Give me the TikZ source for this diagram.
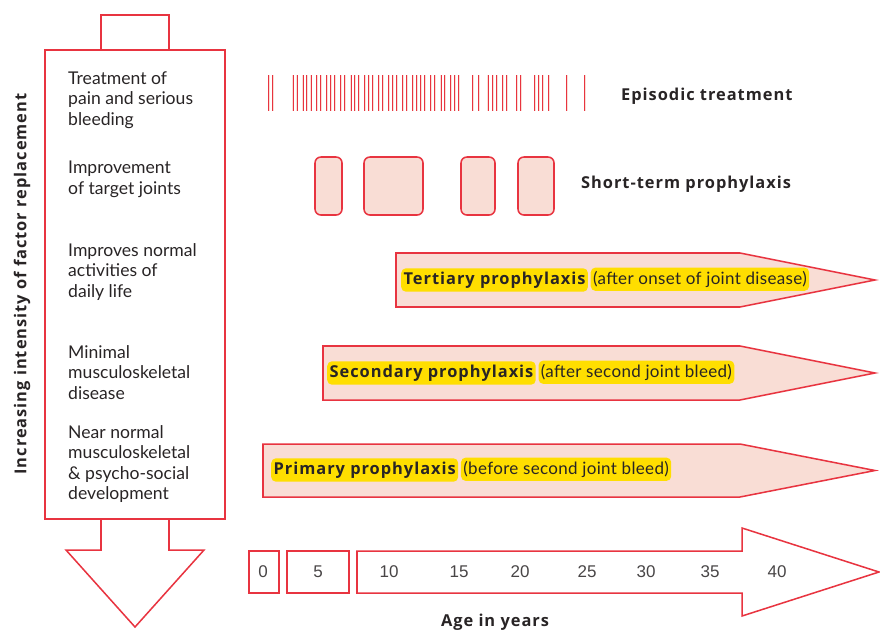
\documentclass[tikz,border=0pt]{standalone}
\usepackage{fontspec}
\setmainfont{Lato}
\newfontfamily\labelfont{Open Sans}[LetterSpace=6]
\newfontfamily\notefont{Lato}[LetterSpace=2]
\newfontfamily\agefont{Liberation Sans}
\usetikzlibrary{positioning}

\definecolor{chartred}{RGB}{232,52,64}
\definecolor{chartpink}{RGB}{249,221,213}
\definecolor{chartyellow}{RGB}{255,222,0}
\definecolor{charttext}{RGB}{40,36,37}

\begin{document}
\begin{tikzpicture}[x=0.03cm,y=-0.03cm]

	\tikzstyle outline=[draw=chartred, line width=1.3pt];
	\tikzstyle band=[outline, fill=chartpink];
	\tikzstyle dose lines=[draw=chartred, line width=0.45pt, double=chartpink, double distance=0.55pt];
	\tikzstyle benefit text=[anchor=north west, align=left, inner sep=0pt, text=charttext, font=\fontsize{15}{17.5}\selectfont];
	\tikzstyle label text=[text=charttext, font=\labelfont\fontsize{14}{16}\selectfont\bfseries];
	\tikzstyle note text=[text=charttext, font=\notefont\fontsize{14.5}{16}\selectfont];
	\tikzstyle marker=[fill=chartyellow, rounded corners=4pt, inner xsep=2pt, inner ysep=3pt];
	\tikzstyle age text=[text=charttext!85, font=\agefont\fontsize{14.5}{16}\selectfont];

	\useasboundingbox (0,0) rectangle (880,633);

	% intensity column
	\draw[outline] (101,50) -- (101,15) -- (169,15) -- (169,50);
	\draw[outline] (45,50) rectangle (225,519);
	\draw[outline] (101,519) -- (101,550) -- (66,550) -- (135,627) -- (204,550) -- (169,550) -- (169,519);

	\node[label text, rotate=90] (intensity) at (22,284) {Increasing intensity of factor replacement};

	\node[benefit text] (pain) at (68,71) {Treatment of\\pain and serious\\bleeding};
	\node[benefit text] (joints) at (68,161) {Improvement\\of target joints};
	\node[benefit text] (daily) at (68,243) {Improves normal\\activities of\\daily life};
	\node[benefit text] (disease) at (68,345) {Minimal\\musculoskeletal\\disease};
	\node[benefit text] (development) at (68,425) {Near normal\\musculoskeletal\\\& psycho-social\\development};

	% episodic treatment
	\foreach \x in {269.3,273.3,292.7,296.7,302.7,307.3,310.7,317.3,321.3,327.3,331.3,335.3,341.3,345.3,
		350.7,355.3,359.3,365.3,369.3,373.3,379.3,383.3,389.3,393.3,397.3,403.3,407.3,413.3,417.3,421.3,
		425.3,431,435,440.7,445.3,451,455.3,459.3,473.3,479.3,487.7,493.3,497.3,503.3,507.3,517.3,521.3,
		535.3,539.3,543.3,549.3,567.3,585.3}
		\draw[dose lines] (\x,75) -- (\x,111);
	\node[label text, anchor=west] (episodic) at (617,96) {Episodic treatment};

	% short-term prophylaxis
	\foreach \l/\r in {315/342,364/423,461/495,518/554}
		\draw[band, rounded corners=5pt] (\l,157) rectangle (\r,215);
	\node[label text, anchor=west] (shortterm) at (577,184) {Short-term prophylaxis};

	% prophylaxis bands
	\foreach \l/\t/\b in {396/253/307,323/346/400,263/444/497}
		\draw[band] (\l,\t) -- (740,\t) -- (875,{(\t+\b)/2}) -- (740,\b) -- (\l,\b) -- cycle;

	\node[label text, marker, anchor=west] (tertiary) at (401,280) {Tertiary prophylaxis};
	\node[note text, marker, anchor=base west] (tertiarynote) at ([xshift=2pt]tertiary.base east) {(after onset of joint disease)};
	\node[label text, marker, anchor=west] (secondary) at (327,373) {Secondary prophylaxis};
	\node[note text, marker, anchor=base west] (secondarynote) at ([xshift=2pt]secondary.base east) {(after second joint bleed)};
	\node[label text, marker, anchor=west] (primary) at (271,470) {Primary prophylaxis};
	\node[note text, marker, anchor=base west] (primarynote) at ([xshift=2pt]primary.base east) {(before second joint bleed)};

	% age axis
	\draw[outline] (249,551) rectangle (279,593);
	\draw[outline] (287,551) rectangle (349,593);
	\draw[outline] (357,551) -- (742,551) -- (742,528) -- (879,572) -- (742,616) -- (742,593) -- (357,593) -- cycle;
	\foreach \x/\age in {263/0,318/5,389/10,459/15,520/20,587/25,646/30,710/35,777/40}
		\node[age text] (age\age) at (\x,572) {\age};
	\node[label text] (agelabel) at (495,622) {Age in years};

\end{tikzpicture}
\end{document}
